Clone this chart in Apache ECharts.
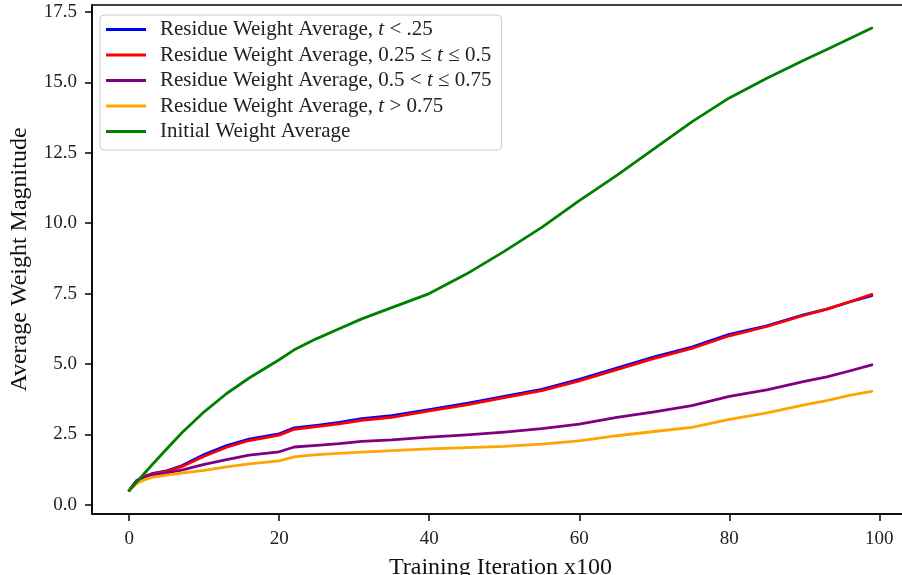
<!DOCTYPE html>
<html>
<head>
<meta charset="utf-8">
<script src="https://cdn.jsdelivr.net/npm/echarts@6/dist/echarts.min.js"></script>
<style>html,body{margin:0;padding:0;background:#fff;}#c{width:902px;height:575px;}</style>
</head>
<body>
<div id="c"></div>
<script>
var iterations = [0,1,2,3,5,7,10,13,16,20,22,25,28,31,35,40,45,50,55,60,65,70,75,80,85,90,93,96,99];
var residueLow  = [0.5,0.85,1.0,1.1,1.2,1.38,1.78,2.1,2.33,2.52,2.73,2.82,2.92,3.06,3.16,3.38,3.6,3.85,4.1,4.45,4.85,5.25,5.6,6.05,6.35,6.75,6.95,7.2,7.43];
var residueMid  = [0.5,0.85,1.0,1.08,1.18,1.35,1.72,2.04,2.28,2.47,2.68,2.77,2.87,3.0,3.1,3.33,3.55,3.8,4.05,4.4,4.8,5.2,5.55,6.0,6.33,6.73,6.95,7.2,7.47];
var residueHigh = [0.5,0.85,0.98,1.05,1.13,1.23,1.43,1.6,1.76,1.88,2.05,2.11,2.17,2.25,2.3,2.4,2.48,2.58,2.7,2.86,3.1,3.3,3.52,3.85,4.08,4.38,4.54,4.75,4.97];
var residueTop  = [0.5,0.75,0.88,0.97,1.05,1.12,1.22,1.34,1.45,1.56,1.7,1.78,1.82,1.87,1.92,1.98,2.03,2.07,2.15,2.27,2.45,2.6,2.75,3.03,3.26,3.55,3.7,3.88,4.03];
var initialAvg  = [0.5,0.8,1.1,1.4,1.98,2.55,3.3,3.95,4.5,5.15,5.5,5.9,6.25,6.6,7.0,7.5,8.2,9.0,9.85,10.8,11.7,12.65,13.6,14.45,15.15,15.8,16.17,16.55,16.93];
var seriesNames = [
  'Residue Weight Average, t < .25',
  'Residue Weight Average, 0.25 \u2264 t \u2264 0.5',
  'Residue Weight Average, 0.5 < t \u2264 0.75',
  'Residue Weight Average, t > 0.75',
  'Initial Weight Average'
];
var seriesColors = ['#0000ff', '#ff0000', '#800080', '#ffa500', '#008000'];
var xTicks = [0, 20, 40, 60, 80, 100];
var yTicks = [0, 2.5, 5, 7.5, 10, 12.5, 15, 17.5];

var seriesValues = [residueLow, residueMid, residueHigh, residueTop, initialAvg];
function pairs(vals) { return iterations.map(function (x, i) { return [x, vals[i]]; }); }

var FONT = 'Liberation Serif';
var chart = echarts.init(document.getElementById('c'), null, {renderer: 'canvas'});
chart.setOption({
  animation: false,
  backgroundColor: '#fff',
  grid: {left: 92, top: 5, width: 817, height: 509, show: true, borderColor: '#000', borderWidth: 1.5,
    backgroundColor: 'transparent', containLabel: false, outerBoundsMode: 'none'},
  xAxis: {
    type: 'value', min: -4.95, max: 103.95,
    name: 'Training Iteration x100', nameLocation: 'middle', nameGap: 42,
    nameTextStyle: {fontFamily: FONT, fontSize: 24, color: '#111'},
    axisLine: {onZero: false, lineStyle: {color: '#000', width: 1.5}},
    axisTick: {show: true, length: 7, lineStyle: {color: '#000', width: 1.5}, customValues: xTicks},
    axisLabel: {fontFamily: FONT, fontSize: 19, color: '#222', margin: 16, customValues: xTicks},
    splitLine: {show: false}
  },
  yAxis: {
    type: 'value', min: -0.33, max: 17.75,
    name: 'Average Weight Magnitude', nameLocation: 'middle', nameGap: 60,
    nameTextStyle: {fontFamily: FONT, fontSize: 24, color: '#111'},
    axisLine: {show: true, onZero: false, lineStyle: {color: '#000', width: 1.5}},
    axisTick: {show: true, length: 7, lineStyle: {color: '#000', width: 1.5}, customValues: yTicks},
    axisLabel: {fontFamily: FONT, fontSize: 19, color: '#222', margin: 15, customValues: yTicks,
      formatter: function (v) { return Number(v).toFixed(1); }},
    splitLine: {show: false}
  },
  legend: {
    orient: 'vertical', left: 100, top: 15,
    padding: [4, 10, 8, 6], itemGap: 4.5,
    itemWidth: 40, itemHeight: 3, icon: 'rect',
    backgroundColor: 'rgba(255,255,255,0.85)', borderColor: '#cccccc', borderWidth: 1, borderRadius: 4,
    textStyle: {fontFamily: FONT, fontSize: 21, color: '#222', padding: [0, 0, 0, 9],
      rich: {i: {fontFamily: FONT, fontSize: 21, fontStyle: 'italic', color: '#222'}}},
    formatter: function (name) { return name.replace(/\bt\b/, '{i|t}'); },
    data: seriesNames
  },
  series: seriesValues.map(function (vals, k) {
    return {
      name: seriesNames[k], type: 'line', data: pairs(vals),
      showSymbol: false, symbol: 'none', smooth: false,
      lineStyle: {color: seriesColors[k], width: 2.8, cap: 'round', join: 'round'},
      itemStyle: {color: seriesColors[k]},
      z: 2 + k
    };
  })
});
</script>
</body>
</html>
